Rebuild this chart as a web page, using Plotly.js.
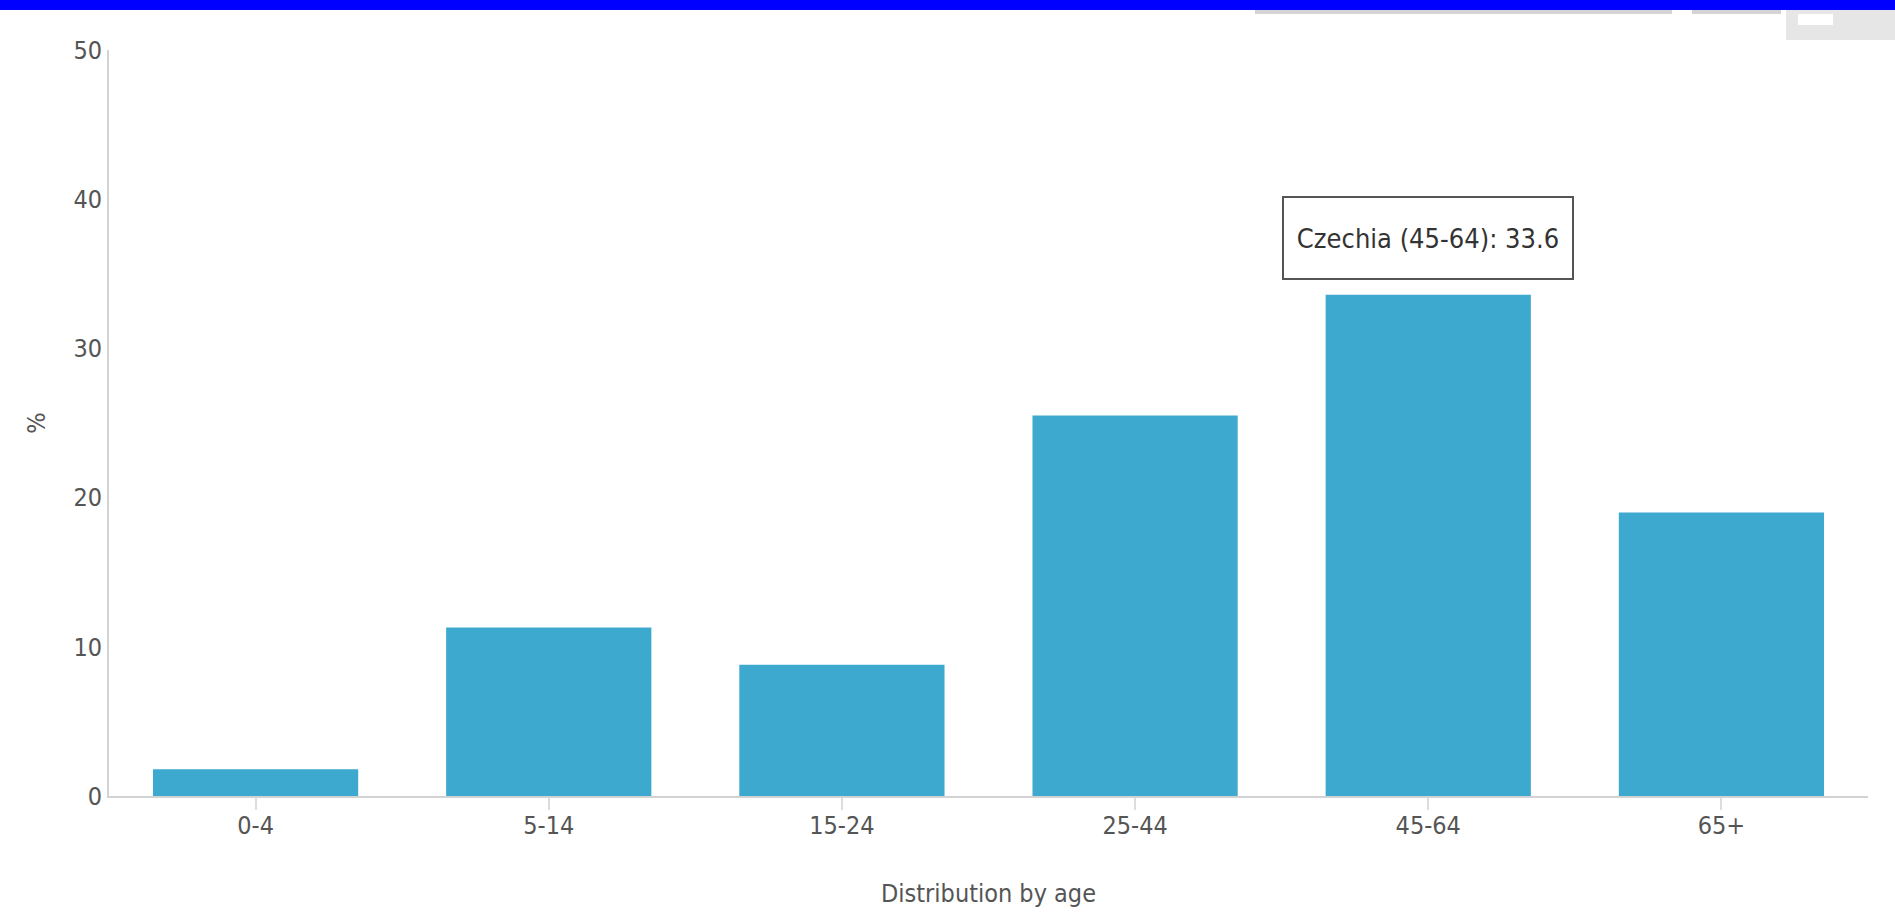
<!DOCTYPE html>
<html>
<head>
<meta charset="utf-8">
<script src="https://cdn.plot.ly/plotly-3.0.1.min.js"></script>
<style>
  html, body { margin: 0; padding: 0; background: #ffffff; overflow: hidden; }
  #chart { position: absolute; left: 0; top: 0; width: 1895px; height: 913px; }
  .ov { position: absolute; }
</style>
</head>
<body>
<div id="chart"></div>
<div class="ov" style="left:0;top:0;width:1895px;height:10px;background:#0000ff;"></div>
<div class="ov" style="left:1255px;top:10px;width:417px;height:4px;background:#d4d4d4;"></div>
<div class="ov" style="left:1692px;top:10px;width:89px;height:4px;background:#d4d4d4;"></div>
<div class="ov" style="left:1786px;top:10px;width:109px;height:30px;background:#e6e6e6;"></div>
<div class="ov" style="left:1798px;top:14px;width:35px;height:11px;background:#ffffff;"></div>
<script>
// ---- data ----
var categories = ["0-4", "5-14", "15-24", "25-44", "45-64", "65+"];
var values = [1.8, 11.3, 8.8, 25.5, 33.6, 19.0];
var yTicks = [0, 10, 20, 30, 40, 50];
var tooltipCountry = "Czechia";
var tooltipCategory = "45-64";

var FONT = "DejaVu Sans Condensed, Liberation Sans Narrow, sans-serif";
var AX = 25;
var tipValue = values[categories.indexOf(tooltipCategory)];

var trace = {
  type: "bar",
  x: categories,
  y: values,
  marker: { color: "#3ea9ce", line: { width: 0 } },
  hoverinfo: "none"
};

var layout = {
  width: 1895,
  height: 913,
  margin: { l: 109, r: 27, t: 50, b: 117, pad: 0 },
  paper_bgcolor: "#ffffff",
  plot_bgcolor: "#ffffff",
  showlegend: false,
  bargap: 0.3,
  font: { family: FONT, size: AX, color: "#555555" },
  xaxis: {
    type: "category",
    showline: true,
    linecolor: "#d3d3d3",
    linewidth: 2,
    showgrid: false,
    zeroline: false,
    ticks: "outside",
    ticklen: 12,
    tickwidth: 2,
    tickcolor: "#dddddd",
    ticklabelstandoff: -6,
    tickfont: { family: FONT, size: AX, color: "#555555" },
    title: { text: "Distribution by age", font: { family: FONT, size: AX, color: "#555555" }, standoff: 45 },
    automargin: false
  },
  yaxis: {
    range: [0, 50],
    tickvals: yTicks,
    ticktext: yTicks.map(String),
    showline: true,
    linecolor: "#d3d3d3",
    linewidth: 2,
    showgrid: false,
    zeroline: false,
    ticks: "",
    ticklabelstandoff: 0,
    tickfont: { family: FONT, size: AX, color: "#555555" },
    title: { text: "%", font: { family: FONT, size: AX, color: "#555555" }, standoff: 21 },
    automargin: false
  },
  annotations: [{
    x: tooltipCategory,
    y: tipValue,
    xref: "x",
    yref: "y",
    text: tooltipCountry + " (" + tooltipCategory + "): " + tipValue.toFixed(1),
    showarrow: false,
    yanchor: "bottom",
    yshift: 15,
    bgcolor: "#ffffff",
    bordercolor: "#555555",
    borderwidth: 2,
    borderpad: 0,
    width: 288,
    height: 80,
    font: { family: FONT, size: 27, color: "#333333" }
  }]
};

Plotly.newPlot("chart", [trace], layout, { displayModeBar: false, staticPlot: true });
</script>
</body>
</html>
